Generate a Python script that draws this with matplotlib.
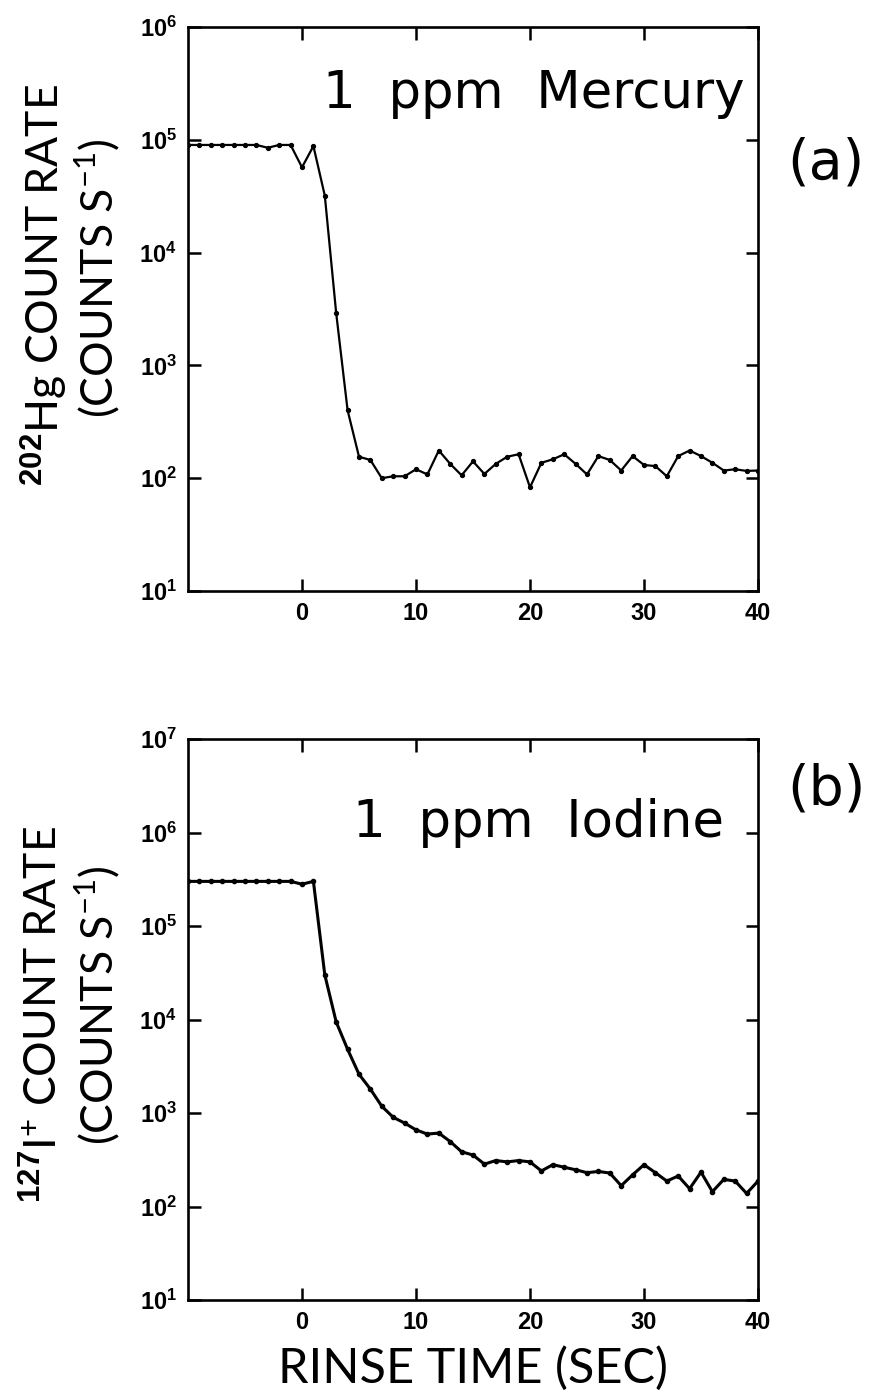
import numpy as np
import matplotlib
matplotlib.use('Agg')
import matplotlib.pyplot as plt
from matplotlib.ticker import FuncFormatter, FixedLocator

plt.rcParams['mathtext.fontset'] = 'custom'
plt.rcParams['mathtext.rm'] = 'Lato'
plt.rcParams['mathtext.bf'] = 'Liberation Sans:bold'

# rinse time in seconds, one reading per second
times = list(range(-10, 41))

# (a) 202Hg count rate, counts per second
mercury = [9.0e4, 9.0e4, 9.0e4, 9.0e4, 9.0e4, 9.0e4, 9.0e4, 8.5e4, 9.0e4, 9.0e4,
           5.7e4, 8.8e4, 3.2e4, 2.9e3, 400, 155, 145, 100, 104, 104,
           120, 108, 176, 134, 106, 141, 109, 134, 155, 163,
           83, 137, 147, 163, 134, 108, 157, 145, 117, 157,
           131, 128, 104, 157, 176, 157, 137, 117, 120, 116, 117]

# (b) 127I+ count rate, counts per second
iodine = [3.0e5, 3.0e5, 3.0e5, 3.0e5, 3.0e5, 3.0e5, 3.0e5, 3.0e5, 3.0e5, 3.0e5,
          2.8e5, 3.0e5, 3.0e4, 9.4e3, 4.8e3, 2.6e3, 1.8e3, 1.18e3, 900, 780,
          660, 595, 610, 495, 385, 355, 284, 310, 300, 310,
          300, 240, 280, 263, 247, 230, 237, 228, 167, 218,
          280, 230, 187, 212, 155, 233, 144, 195, 187, 138, 187]

xticks = [0, 10, 20, 30, 40]


def style_axes(ax, ylo, yhi):
    ax.set_yscale('log')
    ax.set_xlim(-10, 40)
    ax.set_ylim(10**ylo, 10**yhi)
    ax.xaxis.set_major_locator(FixedLocator(xticks))
    ax.yaxis.set_major_locator(FixedLocator([10.0**k for k in range(ylo, yhi + 1)]))
    ax.yaxis.set_minor_locator(FixedLocator([]))
    ax.yaxis.set_major_formatter(FuncFormatter(lambda v, p: r'$\mathbf{10^{%d}}$' % round(np.log10(v))))
    ax.set_xticklabels([str(t) for t in xticks], fontfamily='Liberation Sans', fontweight='bold')
    ax.tick_params(axis='both', which='major', direction='in', length=9, width=1.8,
                   top=True, right=True, labelsize=17, pad=8)
    for sp in ax.spines.values():
        sp.set_linewidth(1.9)


fig = plt.figure(figsize=(8.7, 13.99), dpi=100)
ax1 = fig.add_axes([188/870, 1 - 591/1399, 570/870, 564/1399])
ax2 = fig.add_axes([188/870, 1 - 1300/1399, 570/870, 561/1399])

ax1.plot(times, mercury, color='black', lw=1.6, marker='o', ms=2.8)
style_axes(ax1, 1, 6)
ax1.text(0.977, 0.856, '1  ppm  Mercury', transform=ax1.transAxes, ha='right',
         va='baseline', fontsize=37, fontfamily='DejaVu Sans')

ax2.plot(times, iodine, color='black', lw=2.2, marker='o', ms=3)
style_axes(ax2, 1, 7)
ax2.text(0.94, 0.825, '1  ppm  Iodine', transform=ax2.transAxes, ha='right',
         va='baseline', fontsize=37, fontfamily='DejaVu Sans')

fig.text(826/870, 1 - 164/1399, '(a)', ha='center', va='center', fontsize=40, fontfamily='DejaVu Sans')
fig.text(826/870, 1 - 790/1399, '(b)', ha='center', va='center', fontsize=40, fontfamily='DejaVu Sans')

fig.text(44/870, 1 - 285/1399, r'$^{\mathbf{202}}$Hg COUNT RATE', rotation=90,
         ha='center', va='center', fontsize=32, fontfamily='Lato')
fig.text(97/870, 1 - 278/1399, r'(COUNTS S$^{-1}$)', rotation=90,
         ha='center', va='center', fontsize=32, fontfamily='Lato')
fig.text(44/870, 1 - 1015/1399, r'$^{\mathbf{127}}$I$^{+}$ COUNT RATE', rotation=90,
         ha='center', va='center', fontsize=32, fontfamily='Lato')
fig.text(97/870, 1 - 1005/1399, r'(COUNTS S$^{-1}$)', rotation=90,
         ha='center', va='center', fontsize=32, fontfamily='Lato')

fig.text(473/870, 1 - 1368/1399, 'RINSE TIME (SEC)', ha='center', va='center',
         fontsize=35, fontfamily='Lato')

fig.savefig('out.png', dpi=100)
